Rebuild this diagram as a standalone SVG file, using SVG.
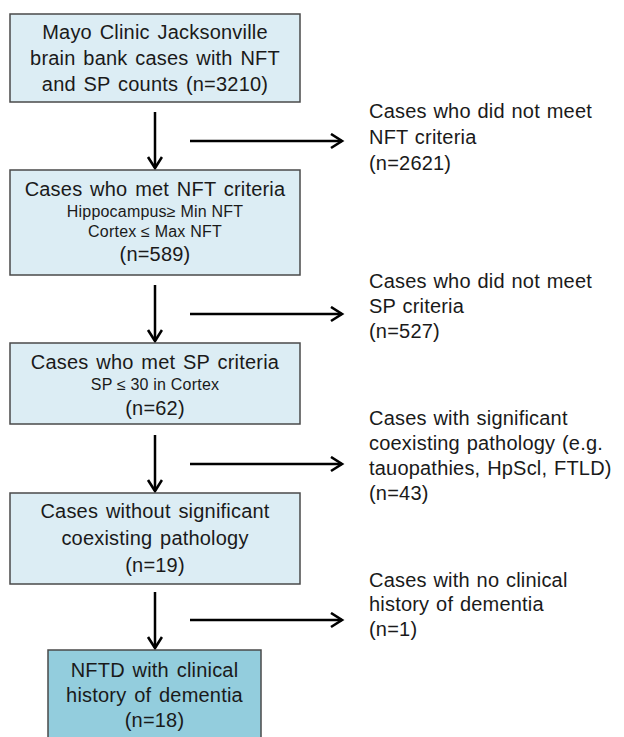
<svg xmlns="http://www.w3.org/2000/svg" width="624" height="737" viewBox="0 0 624 737">
<defs>
<marker id="ah" markerUnits="userSpaceOnUse" markerWidth="16" markerHeight="18" refX="12" refY="8" orient="auto">
<path d="M1,1 L12,8 L1,15" fill="none" stroke="#000" stroke-width="2.6"/>
</marker>
<style>
.box{fill:#dcedf4;stroke:#4a4a4a;stroke-width:1.5}
.box2{fill:#93cddd;stroke:#4a4a4a;stroke-width:1.5}
.t{font-family:"Liberation Sans",Arial,sans-serif;font-size:20px;fill:#1a1a1a;text-anchor:middle;letter-spacing:0.2px;word-spacing:2px}
.s{font-family:"Liberation Sans",Arial,sans-serif;font-size:16px;fill:#1a1a1a;text-anchor:middle;letter-spacing:0.2px}
.r{font-family:"Liberation Sans",Arial,sans-serif;font-size:20px;fill:#1a1a1a;letter-spacing:0.2px;word-spacing:1px}
.c{stroke:#000;stroke-width:2.5;fill:none;marker-end:url(#ah)}
</style>
</defs>
<rect width="624" height="737" fill="#fff"/>
<g id="connectors">
<line class="c" x1="155" y1="112" x2="155" y2="168"/>
<line class="c" x1="155" y1="285" x2="155" y2="341"/>
<line class="c" x1="155" y1="435" x2="155" y2="491"/>
<line class="c" x1="155" y1="592" x2="155" y2="648"/>
<line class="c" x1="190" y1="141" x2="342" y2="141"/>
<line class="c" x1="190" y1="314" x2="342" y2="314"/>
<line class="c" x1="190" y1="464" x2="342" y2="464"/>
<line class="c" x1="190" y1="620" x2="342" y2="620"/>
</g>
<g id="n1">
<rect class="box" x="10" y="14" width="290" height="88"/>
<text class="t" x="155" y="39">Mayo Clinic Jacksonville</text>
<text class="t" x="155" y="65">brain bank cases with NFT</text>
<text class="t" x="155" y="91">and SP counts (n=3210)</text>
</g>
<g id="n2">
<rect class="box" x="10" y="170" width="290" height="105"/>
<text class="t" x="155" y="196">Cases who met NFT criteria</text>
<text class="s" x="155" y="217">Hippocampus≥ Min NFT</text>
<text class="s" x="155" y="237">Cortex ≤ Max NFT</text>
<text class="t" x="155" y="261">(n=589)</text>
</g>
<g id="n3">
<rect class="box" x="10" y="343" width="290" height="81"/>
<text class="t" x="155" y="369">Cases who met SP criteria</text>
<text class="s" x="155" y="390">SP ≤ 30 in Cortex</text>
<text class="t" x="155" y="415">(n=62)</text>
</g>
<g id="n4">
<rect class="box" x="10" y="493" width="290" height="91"/>
<text class="t" x="155" y="518">Cases without significant</text>
<text class="t" x="155" y="545">coexisting pathology</text>
<text class="t" x="155" y="572">(n=19)</text>
</g>
<g id="n5">
<rect class="box2" x="48" y="650" width="213" height="100"/>
<text class="t" x="154.5" y="677">NFTD with clinical</text>
<text class="t" x="154.5" y="702">history of dementia</text>
<text class="t" x="154.5" y="727">(n=18)</text>
</g>
<g id="x1">
<text class="r" x="369" y="118">Cases who did not meet</text>
<text class="r" x="369" y="144">NFT criteria</text>
<text class="r" x="369" y="170">(n=2621)</text>
</g>
<g id="x2">
<text class="r" x="369" y="288">Cases who did not meet</text>
<text class="r" x="369" y="313">SP criteria</text>
<text class="r" x="369" y="338">(n=527)</text>
</g>
<g id="x3">
<text class="r" x="369" y="425">Cases with significant</text>
<text class="r" x="369" y="450">coexisting pathology (e.g.</text>
<text class="r" x="369" y="475">tauopathies, HpScl, FTLD)</text>
<text class="r" x="369" y="500">(n=43)</text>
</g>
<g id="x4">
<text class="r" x="369" y="587">Cases with no clinical</text>
<text class="r" x="369" y="611">history of dementia</text>
<text class="r" x="369" y="636">(n=1)</text>
</g>
</svg>
